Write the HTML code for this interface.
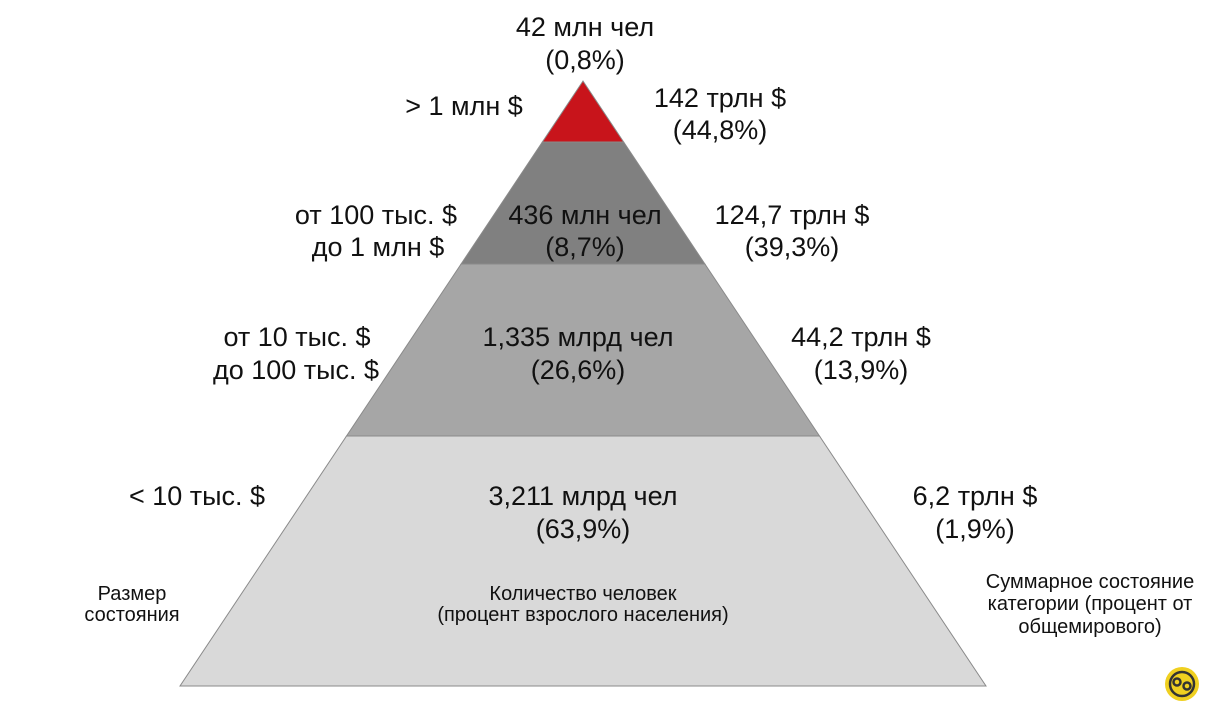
<!DOCTYPE html>
<html><head><meta charset="utf-8"><style>
body{margin:0;background:#fff;width:1211px;height:708px;overflow:hidden;font-family:"Liberation Sans",sans-serif}
svg text{font-family:"Liberation Sans",sans-serif;fill:#111}
.b{font-size:27px}
.s{font-size:20px}
</style></head><body>
<svg id="c" width="1211" height="708">
<g id="bands"></g>
<g text-anchor="middle">
<text class="b"><tspan x="585" y="36">42 млн чел</tspan><tspan x="585" y="69">(0,8%)</tspan></text>
<text class="b"><tspan x="464" y="115">&gt; 1 млн $</tspan></text>
<text class="b"><tspan x="720" y="107">142 трлн $</tspan><tspan x="720" y="139">(44,8%)</tspan></text>
<text class="b"><tspan x="376" y="224">от 100 тыс. $</tspan><tspan x="378" y="256">до 1 млн $</tspan></text>
<text class="b"><tspan x="585" y="224">436 млн чел</tspan><tspan x="585" y="256">(8,7%)</tspan></text>
<text class="b"><tspan x="792" y="224">124,7 трлн $</tspan><tspan x="792" y="256">(39,3%)</tspan></text>
<text class="b"><tspan x="297" y="346">от 10 тыс. $</tspan><tspan x="296" y="379">до 100 тыс. $</tspan></text>
<text class="b"><tspan x="578" y="346">1,335 млрд чел</tspan><tspan x="578" y="379">(26,6%)</tspan></text>
<text class="b"><tspan x="861" y="346">44,2 трлн $</tspan><tspan x="861" y="379">(13,9%)</tspan></text>
<text class="b"><tspan x="197" y="505">&lt; 10 тыс. $</tspan></text>
<text class="b"><tspan x="583" y="505">3,211 млрд чел</tspan><tspan x="583" y="538">(63,9%)</tspan></text>
<text class="b"><tspan x="975" y="505">6,2 трлн $</tspan><tspan x="975" y="538">(1,9%)</tspan></text>
<text class="s"><tspan x="132" y="600">Размер</tspan><tspan x="132" y="621">состояния</tspan></text>
<text class="s"><tspan x="583" y="600">Количество человек</tspan><tspan x="583" y="621">(процент взрослого населения)</tspan></text>
<text class="s"><tspan x="1090" y="588">Суммарное состояние</tspan><tspan x="1090" y="610">категории (процент от</tspan><tspan x="1090" y="633">общемирового)</tspan></text>
</g>
<g>
<circle cx="1182" cy="684" r="17" fill="#f0d020"/>
<circle cx="1182" cy="684" r="12" fill="none" stroke="#333" stroke-width="2.5"/>
<circle cx="1177" cy="682" r="3.5" fill="none" stroke="#333" stroke-width="2.5"/>
<circle cx="1187" cy="686" r="3.5" fill="none" stroke="#333" stroke-width="2.5"/>
</g>
</svg>
<script>
const bandNames=["top","upper","middle","base"];
const bandBoundaries=[0,61,183,355,605];
const bandColors=["#c8141b","#808080","#a6a6a6","#d9d9d9"];
const apexX=583,apexY=81,baseHalf=403,H=605;
const y=d=>apexY+d; const hw=d=>baseHalf*d/H;
const NS="http://www.w3.org/2000/svg";
const bands=document.getElementById('bands');
for(let i=0;i<bandNames.length;i++){
  const a=bandBoundaries[i],b=bandBoundaries[i+1];
  const p=document.createElementNS(NS,'polygon');
  
  
  p.setAttribute('points',`${apexX-hw(a)},${y(a)} ${apexX+hw(a)},${y(a)} ${apexX+hw(b)},${y(b)} ${apexX-hw(b)},${y(b)}`);
  p.setAttribute('fill',bandColors[i]);p.setAttribute('stroke','#8a8a8a');p.setAttribute('stroke-width','1');
  bands.appendChild(p);
}
</script>
</body></html>
